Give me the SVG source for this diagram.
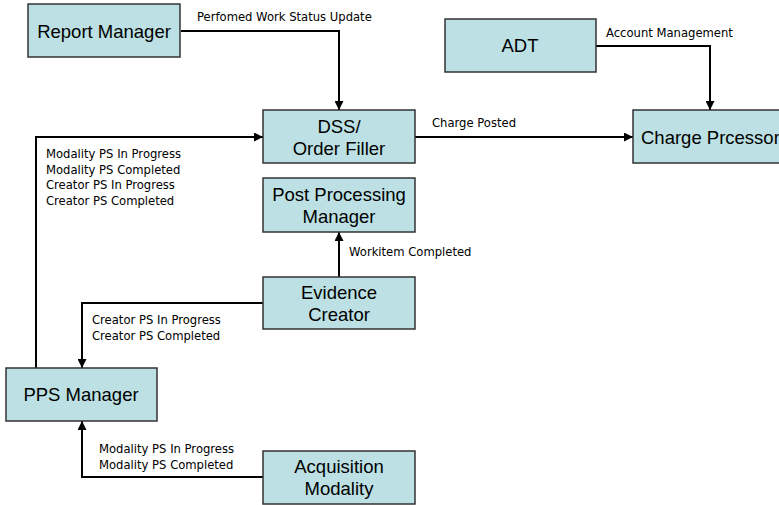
<svg xmlns="http://www.w3.org/2000/svg" width="779" height="505" viewBox="0 0 779 505">
<style>
.node rect{fill:#bce0e3;stroke:#333;stroke-width:1.5}
.node text{font-family:"Liberation Sans",Arial,sans-serif;font-size:18.5px;fill:#000;text-anchor:middle}
.conn path{fill:none;stroke:#000;stroke-width:2}
.lbl{font-family:"DejaVu Sans",Tahoma,sans-serif;font-size:11.6px;fill:#000}
</style>
<defs>
<marker id="ah" viewBox="0 0 10 10" refX="10" refY="5" markerWidth="4.5" markerHeight="4.5" orient="auto" markerUnits="strokeWidth">
<path d="M0,0L10,5L0,10z" fill="#000"/>
</marker>
</defs>
<rect width="779" height="505" fill="#fff"/>
<g class="conn">
<path d="M181,31H339V110" marker-end="url(#ah)"/>
<path d="M596,46H710V110" marker-end="url(#ah)"/>
<path d="M415,137H633" marker-end="url(#ah)"/>
<path d="M36,368V137H263" marker-end="url(#ah)"/>
<path d="M339,277V232" marker-end="url(#ah)"/>
<path d="M263,303H82V368" marker-end="url(#ah)"/>
<path d="M263,477H82V421" marker-end="url(#ah)"/>
</g>
<g class="labels">
<text class="lbl" x="197" y="21">Perfomed Work Status Update</text>
<text class="lbl" x="606" y="37">Account Management</text>
<text class="lbl" x="432" y="127">Charge Posted</text>
<text class="lbl" x="46" y="158">Modality PS In Progress</text>
<text class="lbl" x="46" y="174">Modality PS Completed</text>
<text class="lbl" x="46" y="189">Creator PS In Progress</text>
<text class="lbl" x="46" y="205">Creator PS Completed</text>
<text class="lbl" x="349" y="256">Workitem Completed</text>
<text class="lbl" x="92" y="324">Creator PS In Progress</text>
<text class="lbl" x="92" y="340">Creator PS Completed</text>
<text class="lbl" x="99" y="453">Modality PS In Progress</text>
<text class="lbl" x="99" y="469">Modality PS Completed</text>
</g>
<g id="report-manager" class="node"><rect x="28" y="4" width="152" height="53"/><text x="104" y="38">Report Manager</text></g>
<g id="adt" class="node"><rect x="445" y="19" width="151" height="53"/><text x="520" y="52">ADT</text></g>
<g id="dss-order-filler" class="node"><rect x="263" y="110" width="152" height="53"/><text x="339" y="133">DSS/</text><text x="339" y="155">Order Filler</text></g>
<g id="charge-processor" class="node"><rect x="633" y="110" width="160" height="53"/><text x="641" y="144" style="text-anchor:start">Charge Prcessor</text></g>
<g id="post-processing-manager" class="node"><rect x="263" y="178" width="152" height="54"/><text x="339" y="201">Post Processing</text><text x="339" y="223">Manager</text></g>
<g id="evidence-creator" class="node"><rect x="263" y="277" width="152" height="52"/><text x="339" y="299">Evidence</text><text x="339" y="321">Creator</text></g>
<g id="pps-manager" class="node"><rect x="6" y="368" width="151" height="53"/><text x="81" y="401">PPS Manager</text></g>
<g id="acquisition-modality" class="node"><rect x="263" y="451" width="152" height="53"/><text x="339" y="473">Acquisition</text><text x="339" y="495">Modality</text></g>
</svg>
